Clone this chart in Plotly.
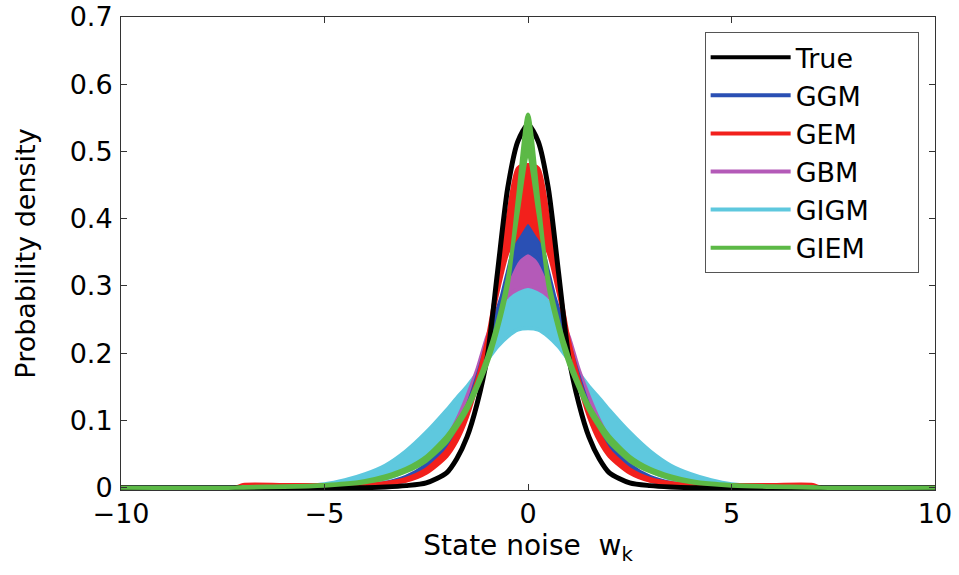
import plotly.graph_objects as go

x_vals = [-10, -7.2, -7, -6, -5, -4.5, -4, -3.5, -3, -2.5, -2, -1.75, -1.5, -1.25, -1, -0.75, -0.5, -0.25,
          0, 0.25, 0.5, 0.75, 1, 1.25, 1.5, 1.75, 2, 2.5, 3, 3.5, 4, 4.5, 5, 6, 7, 7.2, 10]

true_pdf = [0, 0, 0, 0, 0, 0, 0, 0.001, 0.003, 0.007, 0.022, 0.043, 0.075, 0.125, 0.195, 0.32, 0.445, 0.515,
            0.54,
            0.515, 0.445, 0.32, 0.195, 0.125, 0.075, 0.043, 0.022, 0.007, 0.003, 0.001, 0, 0, 0, 0, 0, 0, 0]

ggm_high = [0, 0, 0, 0, 0, 0, 0.002, 0.006, 0.014, 0.03, 0.06, 0.085, 0.115, 0.16, 0.21, 0.26, 0.32, 0.375,
            0.39,
            0.375, 0.32, 0.26, 0.21, 0.16, 0.115, 0.085, 0.06, 0.03, 0.014, 0.006, 0.002, 0, 0, 0, 0, 0, 0]
ggm_low = [0, 0, 0, 0, 0.001, 0.001, 0.003, 0.007, 0.016, 0.034, 0.065, 0.09, 0.12, 0.165, 0.215, 0.265, 0.31, 0.34,
           0.35,
           0.34, 0.31, 0.265, 0.215, 0.165, 0.12, 0.09, 0.065, 0.034, 0.016, 0.007, 0.003, 0.001, 0.001, 0, 0, 0, 0]

gem_high = [0, 0, 0.004, 0.004, 0.004, 0.004, 0.004, 0.006, 0.01, 0.022, 0.047, 0.07, 0.105, 0.155, 0.22, 0.305, 0.40, 0.475,
            0.48,
            0.475, 0.40, 0.305, 0.22, 0.155, 0.105, 0.07, 0.047, 0.022, 0.01, 0.006, 0.004, 0.004, 0.004, 0.004, 0.004, 0, 0]
gem_low = [0, 0, 0.003, 0.003, 0.003, 0.003, 0.004, 0.007, 0.013, 0.027, 0.055, 0.08, 0.115, 0.16, 0.22, 0.29, 0.35, 0.375,
           0.395,
           0.375, 0.35, 0.29, 0.22, 0.16, 0.115, 0.08, 0.055, 0.027, 0.013, 0.007, 0.004, 0.003, 0.003, 0.003, 0.003, 0, 0]

gbm_high = [0, 0, 0, 0, 0, 0, 0.002, 0.005, 0.011, 0.027, 0.062, 0.088, 0.12, 0.16, 0.205, 0.26, 0.31, 0.345,
            0.36,
            0.345, 0.31, 0.26, 0.205, 0.16, 0.12, 0.088, 0.062, 0.027, 0.011, 0.005, 0.002, 0, 0, 0, 0, 0, 0]
gbm_low = [0, 0, 0, 0, 0, 0.001, 0.002, 0.005, 0.012, 0.032, 0.072, 0.10, 0.135, 0.175, 0.225, 0.26, 0.285, 0.295,
           0.30,
           0.295, 0.285, 0.26, 0.225, 0.175, 0.135, 0.10, 0.072, 0.032, 0.012, 0.005, 0.002, 0.001, 0, 0, 0, 0, 0]

gigm_high = [0, 0, 0, 0, 0.001, 0.003, 0.007, 0.013, 0.025, 0.045, 0.078, 0.10, 0.125, 0.155, 0.19, 0.235, 0.275, 0.295,
             0.305,
             0.295, 0.275, 0.235, 0.19, 0.155, 0.125, 0.10, 0.078, 0.045, 0.025, 0.013, 0.007, 0.003, 0.001, 0, 0, 0, 0]
gigm_low = [0, 0, 0, 0.001, 0.005, 0.011, 0.02, 0.033, 0.054, 0.082, 0.115, 0.133, 0.15, 0.17, 0.19, 0.21, 0.225, 0.235,
            0.237,
            0.235, 0.225, 0.21, 0.19, 0.17, 0.15, 0.133, 0.115, 0.082, 0.054, 0.033, 0.02, 0.011, 0.005, 0.001, 0, 0, 0]

giem_high = [0, 0, 0, 0.001, 0.003, 0.005, 0.008, 0.014, 0.024, 0.04, 0.068, 0.09, 0.115, 0.148, 0.185, 0.235, 0.30, 0.43,
             0.555,
             0.43, 0.30, 0.235, 0.185, 0.148, 0.115, 0.09, 0.068, 0.04, 0.024, 0.014, 0.008, 0.005, 0.003, 0.001, 0, 0, 0]
giem_low = [0, 0, 0.001, 0.002, 0.004, 0.006, 0.01, 0.017, 0.028, 0.046, 0.076, 0.097, 0.122, 0.155, 0.195, 0.245, 0.31, 0.41,
            0.50,
            0.41, 0.31, 0.245, 0.195, 0.155, 0.122, 0.097, 0.076, 0.046, 0.028, 0.017, 0.01, 0.006, 0.004, 0.002, 0.001, 0, 0]

legend_names = ["True", "GGM", "GEM", "GBM", "GIGM", "GIEM"]
colors = {"True": "#000000", "GGM": "#2a50b4", "GEM": "#f2201c", "GBM": "#b45ab8",
          "GIGM": "#5ec8de", "GIEM": "#5cb946"}

bands = {"GGM": (ggm_high, ggm_low), "GEM": (gem_high, gem_low), "GBM": (gbm_high, gbm_low),
         "GIGM": (gigm_high, gigm_low), "GIEM": (giem_high, giem_low)}

FONT = "DejaVu Sans"
PAD = "\u00a0\u00a0\u00a0\u00a0\u00a0"
fig = go.Figure()


def add_band(name):
    hi, lo = bands[name]
    fig.add_trace(go.Scatter(
        x=x_vals + x_vals[::-1], y=hi + lo[::-1], mode="lines", fill="toself",
        fillcolor=colors[name], line=dict(color=colors[name], width=4, shape="spline", smoothing=0.7),
        showlegend=False, hoverinfo="skip"))


# drawing order (bottom to top)
add_band("GIGM")
add_band("GBM")
add_band("GGM")
add_band("GEM")
fig.add_trace(go.Scatter(x=x_vals, y=true_pdf, mode="lines",
                         line=dict(color=colors["True"], width=5, shape="spline", smoothing=0.7),
                         showlegend=False, hoverinfo="skip"))
add_band("GIEM")

# legend entries in the reference order
for name in legend_names:
    fig.add_trace(go.Scatter(x=[None], y=[None], mode="lines", name=name + PAD,
                             line=dict(color=colors[name], width=4)))

fig.update_layout(
    width=959, height=575,
    margin=dict(l=121, r=24, t=17, b=85),
    paper_bgcolor="white", plot_bgcolor="white",
    font=dict(family=FONT, size=27, color="black"),
    legend=dict(x=0.717, y=0.968, xanchor="left", yanchor="top",
                bgcolor="white", bordercolor="#555555", borderwidth=1,
                font=dict(family=FONT, size=27, color="black"),
                itemwidth=80, traceorder="normal", tracegroupgap=0),
    xaxis=dict(range=[-10, 10], tickvals=[-10, -5, 0, 5, 10],
               ticks="inside", ticklen=6, tickcolor="#333333",
               showline=True, linecolor="#333333", linewidth=1, mirror="ticks",
               showgrid=False, zeroline=False, ticklabelstandoff=0, automargin=False,
               ticklabeloverflow="allow",
               title=dict(text="State noise  w<sub>k</sub>", font=dict(family=FONT, size=28), standoff=0)),
    yaxis=dict(range=[-0.0035, 0.7], tickvals=[0, 0.1, 0.2, 0.3, 0.4, 0.5, 0.6, 0.7],
               ticktext=["0", "0.1", "0.2", "0.3", "0.4", "0.5", "0.6", "0.7"],
               ticks="inside", ticklen=6, tickcolor="#333333",
               showline=True, linecolor="#333333", linewidth=1, mirror="ticks",
               showgrid=False, zeroline=False, ticklabelstandoff=2, automargin=False,
               ticklabeloverflow="allow",
               title=dict(text="Probability density", font=dict(family=FONT, size=27), standoff=26)),
)

# remove the default page margin so the 959x575 figure fills the window exactly
fig.write_html("out.html", config={"displayModeBar": False},
               post_script="document.body.style.margin='0px';")
